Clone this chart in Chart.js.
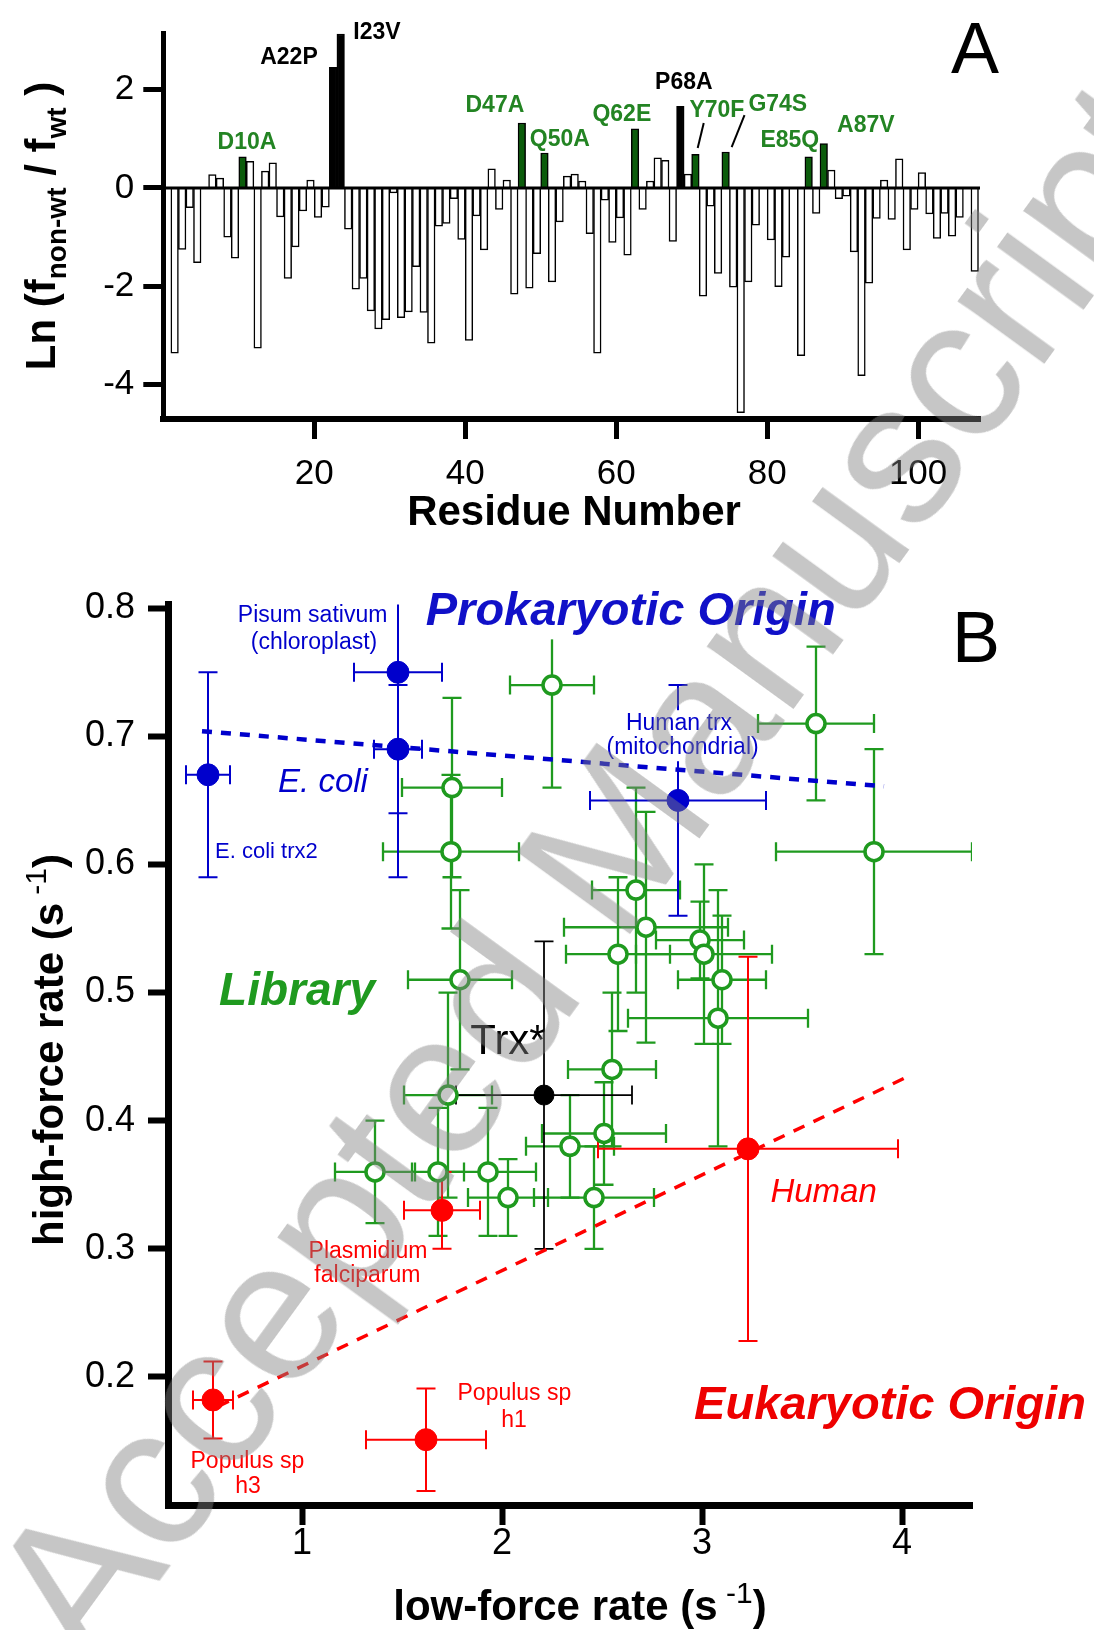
<!DOCTYPE html>
<html><head><meta charset="utf-8">
<script src="https://cdn.jsdelivr.net/npm/chart.js@4.4.1/dist/chart.umd.min.js"></script>
<style>
html,body{margin:0;padding:0;background:#fff;}
#wrap{position:relative;width:1094px;height:1630px;overflow:hidden;background:#fff;}
#cA{position:absolute;left:0;top:0;}
#cB{position:absolute;left:0;top:540px;}
#wm{position:absolute;left:590px;top:870px;transform:translate(-50%,-50%) rotate(-54deg);font:202px 'Liberation Sans',Arial,sans-serif;color:rgba(128,128,128,0.45);white-space:nowrap;pointer-events:none;line-height:1;}
</style></head>
<body><div id="wrap"><canvas id="cA" width="1094" height="540"></canvas><canvas id="cB" width="1094" height="1090"></canvas><div id="wm">Accepted Manuscript</div></div>
<script>
const FONT = "'Liberation Sans', Arial, Helvetica, sans-serif";
Chart.defaults.font.family = FONT;
Chart.defaults.color = '#000';

// ---------------- Panel A data ----------------
const residues = [1,2,3,4,5,6,7,8,9,10,11,12,13,14,15,16,17,18,19,20,21,22,23,24,25,26,27,28,29,30,
31,32,33,34,35,36,37,38,39,40,41,42,43,44,45,46,47,48,49,50,51,52,53,54,55,56,57,58,59,60,
61,62,63,64,65,66,67,68,69,70,71,72,73,74,75,76,77,78,79,80,81,82,83,84,85,86,87,88,89,90,
91,92,93,94,95,96,97,98,99,100,101,102,103,104,105,106,107];
const lnRatio = [-3.36,-1.25,-0.40,-1.52,0,0.27,0.20,-1.00,-1.43,0.63,0.54,-3.26,0.34,0.51,-0.59,-1.84,-1.20,-0.47,0.16,-0.60,
-0.39,2.45,3.13,-0.84,-2.06,-1.84,-2.50,-2.87,-2.68,-0.10,-2.64,-2.52,-1.60,-2.53,-3.16,-0.78,-0.72,-0.22,-1.05,-3.10,
-0.57,-1.26,0.39,-0.44,0.16,-2.16,1.32,-2.04,-1.34,0.71,-1.91,-0.69,0.24,0.28,0.14,-0.93,-3.36,-0.25,-1.11,-0.61,
-1.37,1.20,-0.44,0.14,0.61,0.56,-1.09,1.66,0.28,0.68,-2.20,-0.37,-1.74,0.73,-2.02,-4.57,-1.91,-0.76,0,-1.06,
-2.01,-1.41,0,-3.41,0.63,-0.52,0.90,0.36,-0.22,-0.17,-1.30,-3.82,-1.94,-0.62,0.16,-0.64,0.59,-1.26,-0.44,0.31,
-0.53,-1.03,-0.52,-0.98,-0.60,0,-1.70];
const greenMutants = [10,47,50,62,70,74,85,87];
const blackMutants = [22,23,68];
const residueTicks = [20,40,60,80,100];
const lnTicks = [-4,-2,0,2];
const mutantNames = ['D10A','A22P','I23V','D47A','Q50A','Q62E','P68A','Y70F','G74S','E85Q','A87V'];

// ---------------- Panel B data ----------------
const libLow     = [2.25,3.57,3.86,1.75,1.745,1.79,2.67,2.72,2.58,2.99,3.01,3.10,3.08,2.55,1.73,1.68,1.365,1.93,2.03,2.46,2.34,2.51];
const libHigh    = [0.74,0.71,0.61,0.66,0.61,0.51,0.58,0.551,0.53,0.541,0.53,0.51,0.48,0.44,0.42,0.36,0.36,0.36,0.34,0.34,0.38,0.39];
const libLowErr  = [0.21,0.29,0.49,0.25,0.34,0.26,0.22,0.41,0.26,0.22,0.34,0.22,0.45,0.22,0.22,0.13,0.20,0.24,0.20,0.30,0.22,0.31];
const libHighErr = [0.08,0.06,0.08,0.07,0.06,0.07,0.08,0.09,0.06,0.03,0.07,0.05,0.10,0.06,0.08,0.05,0.04,0.05,0.03,0.04,0.04,0.04];

const prokNames   = ['E. coli trx2','Pisum sativum (chloroplast)','E. coli','Human trx (mitochondrial)'];
const prokLow     = [0.53,1.48,1.48,2.88];
const prokHigh    = [0.67,0.75,0.69,0.65];
const prokLowErr  = [0.11,0.22,0.12,0.44];
const prokHighErr = [0.08,0.16,0.05,0.09];

const eukNames   = ['Plasmidium falciparum','Human','Populus sp h3','Populus sp h1'];
const eukLow     = [1.70,3.23,0.555,1.62];
const eukHigh    = [0.33,0.378,0.182,0.151];
const eukLowErr  = [0.19,0.75,0.10,0.30];
const eukHighErr = [0.03,0.15,0.03,0.04];

const trxLow = [2.21], trxHigh = [0.42], trxLowErr = [0.44], trxHighErr = [0.12];

const prokFitLow = [0.50,3.91], prokFitHigh = [0.704,0.661];
const eukFitLow  = [0.58,4.05], eukFitHigh  = [0.177,0.436];

const lowTicks = [1,2,3,4];
const highTicks = [0.2,0.3,0.4,0.5,0.6,0.7,0.8];

// ---------------- styling ----------------
const GREEN_A_TXT = '#238423', GREEN_A_BAR = '#0b5c0b';
const GREEN = '#1f9a1f', BLUE = '#0000cc', RED = '#ff0000';

// label layout (data units) for panel A
const mutLayout = [
  {x:11.08,y:0.91,c:GREEN_A_TXT},{x:16.65,y:2.64,c:'#000'},{x:28.3,y:3.15,c:'#000'},
  {x:43.93,y:1.67,c:GREEN_A_TXT},{x:52.54,y:0.99,c:GREEN_A_TXT},{x:60.75,y:1.48,c:GREEN_A_TXT},
  {x:68.97,y:2.13,c:'#000'},{x:73.34,y:1.58,c:GREEN_A_TXT},{x:81.41,y:1.69,c:GREEN_A_TXT},
  {x:83.0,y:0.97,c:GREEN_A_TXT},{x:93.07,y:1.26,c:GREEN_A_TXT}
];
const leaders = [[71.6,1.32,70.8,0.81],[77.0,1.48,75.3,0.83]];

function rich(ctx, parts, x, y, rot, align){
  ctx.save(); ctx.translate(x,y); ctx.rotate(rot||0);
  let tot=0; parts.forEach(p=>{ctx.font=p.f; p.w=ctx.measureText(p.t).width; tot+=p.w;});
  let cx = align==='left'?0:-tot/2;
  ctx.textAlign='left'; ctx.textBaseline='alphabetic';
  parts.forEach(p=>{ctx.font=p.f; ctx.fillStyle=p.c||'#000'; ctx.fillText(p.t,cx,p.dy||0); cx+=p.w;});
  ctx.restore();
}

const axisCommon = (tl, tw, bw) => ({
  grid:{display:true, drawOnChartArea:false, drawTicks:true, tickLength:tl, tickWidth:tw, tickColor:'#000', offset:false},
  border:{display:true, color:'#000', width:bw}
});

const panelAPlugin = {
  id:'panelA',
  afterDatasetsDraw(chart){
    const {ctx, chartArea:a, scales:{x,y}} = chart;
    const y0 = y.getPixelForValue(0);
    ctx.save();
    ctx.strokeStyle='#000'; ctx.lineWidth=3;
    ctx.beginPath(); ctx.moveTo(a.left,y0); ctx.lineTo(a.right,y0); ctx.stroke();
    ctx.font = 'bold 23px '+FONT; ctx.textAlign='center'; ctx.textBaseline='middle';
    mutantNames.forEach((n,i)=>{ const L=mutLayout[i]; ctx.fillStyle=L.c; ctx.fillText(n, x.getPixelForValue(L.x), y.getPixelForValue(L.y)); });
    ctx.lineWidth=2; ctx.strokeStyle='#000';
    leaders.forEach(l=>{ ctx.beginPath(); ctx.moveTo(x.getPixelForValue(l[0]),y.getPixelForValue(l[1])); ctx.lineTo(x.getPixelForValue(l[2]),y.getPixelForValue(l[3])); ctx.stroke(); });
    ctx.restore();
  },
  afterDraw(chart){
    const {ctx, chartArea:a} = chart;
    const B='bold 42px '+FONT, S='bold 28px '+FONT;
    rich(ctx,[{t:'Ln (f',f:B},{t:'non-wt',f:S,dy:11},{t:' / f',f:B},{t:'wt',f:S,dy:11},{t:' )',f:B}], 55, (a.top+a.bottom)/2, -Math.PI/2);
    rich(ctx,[{t:'Residue Number',f:B}], 574, 525, 0);
    rich(ctx,[{t:'A',f:'72px '+FONT}], 975, 73, 0);
  }
};

const barColors = residues.map(r => greenMutants.includes(r) ? GREEN_A_BAR : (blackMutants.includes(r) ? '#000' : '#fff'));

new Chart(document.getElementById('cA'), {
  type:'bar',
  data:{datasets:[{
    data: residues.map((r,i)=>({x:r+0.5, y:lnRatio[i]})),
    backgroundColor: barColors, borderColor:'#000', borderWidth:1.5,
    barPercentage:1, categoryPercentage:1
  }]},
  options:{
    responsive:false, animation:false, devicePixelRatio:1, events:[],
    layout:{padding:{left:0,top:33,right:114,bottom:0}},
    plugins:{legend:{display:false}, tooltip:{enabled:false}},
    scales:{
      x:Object.assign({type:'linear', min:0, max:108.2, offset:false,
        afterBuildTicks:s=>{s.ticks=residueTicks.map(v=>({value:v}));},
        afterFit:s=>{s.height=121;},
        ticks:{font:{size:35}, color:'#000', padding:14, maxRotation:0, autoSkip:false}}, axisCommon(20,5,6)),
      y:Object.assign({type:'linear', min:-4.7, max:3.15,
        afterBuildTicks:s=>{s.ticks=lnTicks.map(v=>({value:v}));},
        afterFit:s=>{s.width=163.3;},
        ticks:{font:{size:35}, color:'#000', padding:9}}, axisCommon(20,5,5))
    }
  },
  plugins:[panelAPlugin]
});

// ---------------- Panel B ----------------
const errPlugin = {
  id:'errbars',
  beforeDatasetsDraw(chart){
    const {ctx, chartArea:a, scales:{x,y}} = chart;
    ctx.save(); ctx.beginPath(); ctx.rect(a.left,a.top,a.right-a.left,a.bottom-a.top); ctx.clip();
    chart.data.datasets.forEach(ds=>{
      if(!ds.errX) return;
      ctx.strokeStyle=ds.errColor; ctx.lineWidth=ds.errWidth;
      ds.data.forEach((p,i)=>{
        const px=x.getPixelForValue(p.x), py=y.getPixelForValue(p.y);
        const xl=x.getPixelForValue(p.x-ds.errX[i]), xr=x.getPixelForValue(p.x+ds.errX[i]);
        const yt=y.getPixelForValue(p.y+ds.errY[i]), yb=y.getPixelForValue(p.y-ds.errY[i]);
        const c=9.5;
        ctx.beginPath();
        ctx.moveTo(xl,py); ctx.lineTo(xr,py);
        ctx.moveTo(xl,py-c); ctx.lineTo(xl,py+c);
        ctx.moveTo(xr,py-c); ctx.lineTo(xr,py+c);
        ctx.moveTo(px,yt); ctx.lineTo(px,yb);
        ctx.moveTo(px-c,yt); ctx.lineTo(px+c,yt);
        ctx.moveTo(px-c,yb); ctx.lineTo(px+c,yb);
        ctx.stroke();
      });
    });
    ctx.restore();
  }
};

// label layout for panel B (data units)
const bLabels = [
  {t:'Pisum sativum', x:1.053, y:0.794, f:'23px', c:BLUE},
  {t:'(chloroplast)', x:1.06, y:0.773, f:'23px', c:BLUE},
  {t:'E. coli trx2', x:0.565, y:0.610, f:'22px', c:BLUE, al:'left'},
  {t:'Human trx', x:2.885, y:0.710, f:'23px', c:BLUE, bg:true},
  {t:'(mitochondrial)', x:2.903, y:0.691, f:'23px', c:BLUE, bg:true},
  {t:'E. coli', x:1.105, y:0.664, f:'italic 33px', c:BLUE},
  {t:'Prokaryotic Origin', x:2.644, y:0.797, f:'italic bold 47px', c:'#1010c8', bg:true},
  {t:'Library', x:0.975, y:0.500, f:'italic bold 46px', c:GREEN},
  {t:'Plasmidium', x:1.33, y:0.298, f:'23px', c:RED},
  {t:'falciparum', x:1.327, y:0.279, f:'23px', c:RED},
  {t:'Populus sp', x:2.062, y:0.187, f:'23px', c:RED},
  {t:'h1', x:2.06, y:0.166, f:'23px', c:RED},
  {t:'Populus sp', x:0.727, y:0.134, f:'23px', c:RED},
  {t:'h3', x:0.73, y:0.114, f:'23px', c:RED},
  {t:'Human', x:3.608, y:0.344, f:'italic 33px', c:RED},
  {t:'Eukaryotic Origin', x:3.94, y:0.177, f:'italic bold 47px', c:'#ee0000'},
  {t:'Trx*', x:2.03, y:0.461, f:'42px', c:'#000'}
];

const panelBPlugin = {
  id:'panelB',
  afterDatasetsDraw(chart){
    const {ctx, scales:{x,y}} = chart;
    ctx.save(); ctx.textBaseline='middle';
    bLabels.forEach(L=>{
      ctx.font = L.f+' '+FONT;
      ctx.textAlign = L.al||'center';
      const px=x.getPixelForValue(L.x), py=y.getPixelForValue(L.y);
      if(L.bg){
        const w=ctx.measureText(L.t).width, h=parseFloat(L.f.match(/(\d+)px/)[1]);
        const left = (L.al==='left')?px:px-w/2;
        ctx.fillStyle='#fff'; ctx.fillRect(left-3, py-h*0.58, w+6, h*1.16);
      }
      ctx.fillStyle=L.c; ctx.fillText(L.t,px,py);
    });
    ctx.restore();
  },
  afterDraw(chart){
    const {ctx, chartArea:a} = chart;
    const B='bold 42px '+FONT, S='30px '+FONT;
    rich(ctx,[{t:'high-force rate (s',f:B},{t:' -1',f:S,dy:-17},{t:')',f:B}], 63, 510, -Math.PI/2);
    rich(ctx,[{t:'low-force rate (s',f:B},{t:' -1',f:S,dy:-17},{t:')',f:B}], 580, 1080, 0);
    rich(ctx,[{t:'B',f:'72px '+FONT}], 976, 122, 0);
  }
};

const pts = (xs,ys)=>xs.map((v,i)=>({x:v,y:ys[i]}));

new Chart(document.getElementById('cB'), {
  type:'scatter',
  data:{datasets:[
    {type:'line', data:pts(prokFitLow,prokFitHigh), borderColor:BLUE, borderWidth:4.5, borderDash:[10,9], pointRadius:0, fill:false, order:10},
    {type:'line', data:pts(eukFitLow,eukFitHigh), borderColor:RED, borderWidth:3.5, borderDash:[12,10], pointRadius:0, fill:false, order:9},
    {label:'Library', data:pts(libLow,libHigh), errX:libLowErr, errY:libHighErr, errColor:GREEN, errWidth:2.3,
      pointRadius:9, pointBorderWidth:3.5, pointBackgroundColor:'#fff', pointBorderColor:GREEN, order:5},
    {label:'Prokaryotic', data:pts(prokLow,prokHigh), errX:prokLowErr, errY:prokHighErr, errColor:BLUE, errWidth:2,
      pointRadius:11, pointBorderWidth:1, pointBackgroundColor:BLUE, pointBorderColor:BLUE, order:4},
    {label:'Eukaryotic', data:pts(eukLow,eukHigh), errX:eukLowErr, errY:eukHighErr, errColor:RED, errWidth:2,
      pointRadius:11, pointBorderWidth:1, pointBackgroundColor:RED, pointBorderColor:RED, order:3},
    {label:'Trx*', data:pts(trxLow,trxHigh), errX:trxLowErr, errY:trxHighErr, errColor:'#000', errWidth:1.8,
      pointRadius:10, pointBorderWidth:1, pointBackgroundColor:'#000', pointBorderColor:'#000', order:2}
  ]},
  options:{
    responsive:false, animation:false, devicePixelRatio:1, events:[],
    layout:{padding:{left:0,top:64.4,right:122,bottom:0}},
    plugins:{legend:{display:false}, tooltip:{enabled:false}},
    scales:{
      x:Object.assign({type:'linear', min:0.33, max:4.35,
        afterBuildTicks:s=>{s.ticks=lowTicks.map(v=>({value:v}));},
        afterFit:s=>{s.height=125;},
        ticks:{font:{size:36}, color:'#000', padding:-3, maxRotation:0, autoSkip:false}}, axisCommon(20,6,7)),
      y:Object.assign({type:'linear', min:0.1, max:0.803,
        afterBuildTicks:s=>{s.ticks=highTicks.map(v=>({value:v}));},
        afterFit:s=>{s.width=168;},
        ticks:{font:{size:36}, color:'#000', padding:13, callback:v=>v.toFixed(1)}}, axisCommon(20,6,7))
    }
  },
  plugins:[errPlugin, panelBPlugin]
});
</script></body></html>
